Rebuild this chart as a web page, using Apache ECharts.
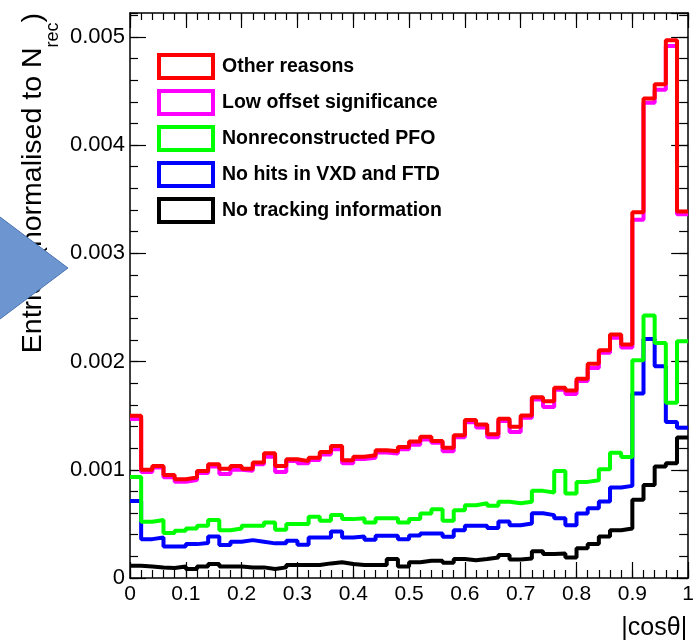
<!DOCTYPE html>
<html>
<head>
<meta charset="utf-8">
<script src="https://cdn.jsdelivr.net/npm/echarts@6/dist/echarts.min.js"></script>
<style>
  html, body { margin: 0; padding: 0; background: #fff; }
  #chart { width: 697px; height: 641px; }
</style>
</head>
<body>
<div id="chart"></div>
<script>
// 50 bins of |cos(theta)| from 0 to 1 (bin width 0.02)
const binWidth = 0.02;
const nBins = 50;

// Stacked (cumulative) histogram heights
const otherReasons = [0.001500,0.001000,0.001035,0.000952,0.000912,0.000928,0.000989,0.001050,0.001010,0.001035,
                      0.001010,0.001066,0.001152,0.001035,0.001097,0.001080,0.001112,0.001164,0.001220,0.001088,
                      0.001120,0.001134,0.001180,0.001170,0.001210,0.001260,0.001306,0.001265,0.001204,0.001318,
                      0.001459,0.001419,0.001327,0.001472,0.001398,0.001502,0.001671,0.001634,0.001757,0.001733,
                      0.001840,0.001979,0.002104,0.002249,0.002157,0.003380,0.004430,0.004562,0.004968,0.003385];
const lowOffset    = [0.001470,0.000980,0.001020,0.000930,0.000890,0.000905,0.000970,0.001030,0.000960,0.001000,
                      0.000990,0.001050,0.001120,0.000980,0.001080,0.001060,0.001090,0.001140,0.001190,0.001060,
                      0.001100,0.001110,0.001160,0.001150,0.001190,0.001230,0.001280,0.001250,0.001170,0.001300,
                      0.001440,0.001390,0.001300,0.001450,0.001350,0.001480,0.001650,0.001580,0.001740,0.001700,
                      0.001820,0.001940,0.002080,0.002220,0.002130,0.003310,0.004390,0.004510,0.004915,0.003360];
const nonRecoPFO   = [0.000934,0.000519,0.000535,0.000415,0.000436,0.000458,0.000482,0.000535,0.000442,0.000458,
                      0.000482,0.000482,0.000513,0.000445,0.000498,0.000498,0.000565,0.000528,0.000581,0.000544,
                      0.000553,0.000513,0.000553,0.000553,0.000513,0.000545,0.000596,0.000636,0.000528,0.000627,
                      0.000673,0.000691,0.000667,0.000704,0.000691,0.000704,0.000805,0.000790,0.000989,0.000781,
                      0.000888,0.000903,0.001005,0.001158,0.001118,0.002012,0.002425,0.002172,0.001619,0.002187];
const noHitsVXD    = [0.000712,0.000359,0.000375,0.000292,0.000290,0.000313,0.000323,0.000384,0.000304,0.000335,
                      0.000350,0.000335,0.000320,0.000320,0.000344,0.000307,0.000375,0.000375,0.000430,0.000375,
                      0.000384,0.000353,0.000390,0.000390,0.000359,0.000392,0.000412,0.000412,0.000381,0.000442,
                      0.000482,0.000482,0.000461,0.000522,0.000488,0.000504,0.000599,0.000581,0.000553,0.000488,
                      0.000596,0.000645,0.000707,0.000836,0.000851,0.001705,0.002209,0.001957,0.001441,0.001389];
const noTracking   = [0.000113,0.000107,0.000098,0.000092,0.000107,0.000083,0.000107,0.000129,0.000107,0.000107,
                      0.000098,0.000098,0.000083,0.000098,0.000120,0.000120,0.000120,0.000135,0.000145,0.000129,
                      0.000120,0.000120,0.000120,0.000175,0.000107,0.000145,0.000160,0.000160,0.000140,0.000175,
                      0.000165,0.000175,0.000190,0.000212,0.000170,0.000180,0.000246,0.000221,0.000227,0.000190,
                      0.000274,0.000313,0.000384,0.000442,0.000458,0.000722,0.000860,0.001030,0.001060,0.001297];

const seriesNames  = ['Other reasons','Low offset significance','Nonreconstructed PFO','No hits in VXD and FTD','No tracking information'];
const seriesColors = ['#ff0000','#ff00ff','#00ff00','#0000ff','#000000'];
const seriesValues = [otherReasons, lowOffset, nonRecoPFO, noHitsVXD, noTracking];

const xTickLabels = ['0','0.1','0.2','0.3','0.4','0.5','0.6','0.7','0.8','0.9','1'];
const yTickLabels = ['0','0.001','0.002','0.003','0.004','0.005'];

const FONT = '"Liberation Sans", Arial, Helvetica, sans-serif';

function stepData(vals) {
  const d = vals.map((v, i) => [i * binWidth, v]);
  d.push([nBins * binWidth, vals[vals.length - 1]]);
  return d;
}

const chart = echarts.init(document.getElementById('chart'), null, { renderer: 'canvas' });

const tickStyle = { color: '#000', width: 1.2 };

const series = [];
for (let k = seriesValues.length - 1; k >= 0; k--) {
  series.push({
    name: seriesNames[k],
    type: 'line',
    step: 'end',
    data: stepData(seriesValues[k]),
    showSymbol: false,
    symbol: 'none',
    xAxisIndex: 0,
    yAxisIndex: 0,
    lineStyle: { color: seriesColors[k], width: 4 },
    itemStyle: { color: seriesColors[k] },
    z: 10 - k
  });
}

function tickAxis(base, pos, interval, len, withLine) {
  return Object.assign({}, base, {
    type: 'value', position: pos, interval: interval, offset: 0,
    axisLine: { show: true, onZero: false, lineStyle: { color: withLine ? '#000' : 'rgba(0,0,0,0)', width: 1.5 } },
    axisTick: { show: true, inside: true, length: len, lineStyle: tickStyle },
    splitLine: { show: false },
    axisLabel: { show: false }
  });
}

const xBase = { min: 0, max: 1 };
const yBase = { min: 0, max: 0.00522 };

const xMain = tickAxis(xBase, 'bottom', 0.1, 16, true);
xMain.axisLabel = {
  show: true, fontSize: 21, color: '#000', fontFamily: FONT, margin: 6,
  formatter: (v) => xTickLabels[Math.round(v * 10)]
};
xMain.name = '|cosθ|';
xMain.nameLocation = 'end';
xMain.nameGap = -1;
xMain.nameTextStyle = { fontSize: 25, color: '#000', fontFamily: FONT, align: 'right', verticalAlign: 'top', padding: [38, 0, 0, 0] };

const yMain = tickAxis(yBase, 'left', 0.001, 16, true);
yMain.axisLabel = {
  show: true, fontSize: 22, color: '#000', fontFamily: FONT, margin: 5, showMaxLabel: false,
  formatter: (v) => { const i = Math.round(v / 0.001); return (Math.abs(v - i * 0.001) < 1e-9 && i < yTickLabels.length) ? yTickLabels[i] : ''; }
};
yMain.name = '{m|Entries (normalised to N}{s|rec}{m|)}';
yMain.nameLocation = 'end';
yMain.nameRotate = 90;
yMain.nameGap = 0;
yMain.nameTextStyle = {
  align: 'right', verticalAlign: 'bottom', padding: [0, 0, 68, 0],
  rich: {
    m: { fontSize: 28.5, lineHeight: 32, color: '#000', fontFamily: FONT, verticalAlign: 'top' },
    s: { fontSize: 18, lineHeight: 43, color: '#000', fontFamily: FONT, verticalAlign: 'bottom' }
  }
};

const option = {
  animation: false,
  backgroundColor: '#ffffff',
  grid: { left: 130, right: 6, top: 13, bottom: 62, containLabel: false },
  legend: {
    orient: 'vertical',
    left: 157,
    top: 53,
    padding: 0,
    itemWidth: 54,
    itemHeight: 23,
    itemGap: 9,
    selectedMode: false,
    textStyle: { fontSize: 19.5, fontWeight: 'bold', color: '#000', fontFamily: FONT, padding: [0, 0, 0, 4] },
    data: seriesNames.map((n, i) => ({
      name: n,
      icon: 'rect',
      itemStyle: { color: 'rgba(0,0,0,0)', borderColor: seriesColors[i], borderWidth: 4 }
    }))
  },
  xAxis: [
    xMain,
    tickAxis(xBase, 'bottom', 0.02, 8, false),
    tickAxis(xBase, 'top', 0.1, 15, true),
    tickAxis(xBase, 'top', 0.02, 7, false)
  ],
  yAxis: [
    yMain,
    tickAxis(yBase, 'left', 0.0002, 8, false),
    tickAxis(yBase, 'right', 0.001, 17, true),
    tickAxis(yBase, 'right', 0.0002, 9, false)
  ],
  graphic: [
    {
      type: 'polygon',
      z: 100,
      shape: { points: [[-30, 194.5], [68, 268], [-30, 341.5]] },
      style: { fill: '#6d96d0', stroke: '#4a74b2', lineWidth: 1 }
    }
  ],
  series: series
};

chart.setOption(option);
</script>
</body>
</html>
